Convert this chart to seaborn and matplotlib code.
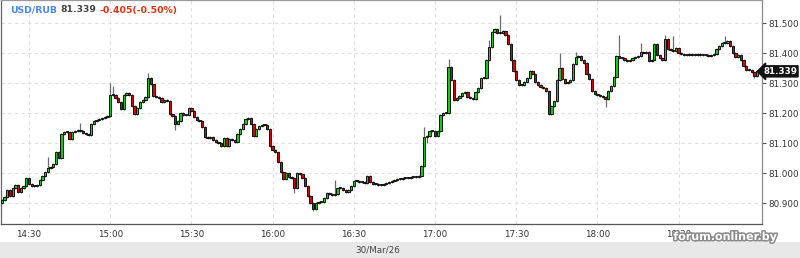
import matplotlib
matplotlib.use("Agg")
import matplotlib.pyplot as plt
import matplotlib.patheffects as pe
from matplotlib.patches import Rectangle
import matplotlib.transforms as mtrans
import seaborn as sns
import numpy as np

# ---------------- data (1-minute candles, 30/Mar/26, from 14:20) ----------------
start_minute = 20          # minutes after 14:00 of the first candle
first_open = 80.900
closes = [
    80.910, 80.920, 80.944, 80.924, 80.950, 80.960, 80.937, 80.950, 80.957, 80.984,
    80.964, 80.957, 80.957, 80.960, 80.977, 80.990, 81.004, 81.017, 81.020, 81.030,
    81.070, 81.050, 81.130, 81.137, 81.137, 81.114, 81.137, 81.140, 81.144, 81.140,
    81.134, 81.130, 81.127, 81.164, 81.174, 81.177, 81.180, 81.184, 81.187, 81.190,
    81.260, 81.260, 81.250, 81.237, 81.214, 81.260, 81.267, 81.260, 81.224, 81.197,
    81.217, 81.237, 81.244, 81.254, 81.317, 81.297, 81.257, 81.254, 81.250, 81.237,
    81.244, 81.240, 81.197, 81.190, 81.164, 81.174, 81.200, 81.194, 81.194, 81.217,
    81.207, 81.187, 81.177, 81.174, 81.154, 81.120, 81.117, 81.120, 81.110, 81.104,
    81.100, 81.090, 81.117, 81.090, 81.114, 81.110, 81.104, 81.130, 81.147, 81.164,
    81.180, 81.184, 81.164, 81.124, 81.147, 81.157, 81.160, 81.160, 81.147, 81.090,
    81.077, 81.070, 81.037, 81.004, 80.980, 81.000, 80.987, 80.984, 80.950, 81.000,
    80.997, 80.984, 80.957, 80.924, 80.900, 80.880, 80.900, 80.904, 80.904, 80.917,
    80.934, 80.930, 80.927, 80.930, 80.950, 80.950, 80.944, 80.937, 80.944, 80.957,
    80.974, 80.974, 80.970, 80.970, 80.967, 80.990, 80.970, 80.964, 80.964, 80.960,
    80.960, 80.964, 80.967, 80.970, 80.974, 80.977, 80.980, 80.980, 80.984, 80.984,
    80.984, 80.987, 80.987, 80.987, 80.990, 81.024, 81.120, 81.124, 81.140, 81.140,
    81.124, 81.140, 81.194, 81.200, 81.200, 81.354, 81.310, 81.244, 81.250, 81.257,
    81.267, 81.270, 81.254, 81.250, 81.247, 81.270, 81.284, 81.317, 81.317, 81.377,
    81.420, 81.470, 81.480, 81.467, 81.467, 81.474, 81.460, 81.430, 81.377, 81.340,
    81.310, 81.294, 81.294, 81.304, 81.317, 81.340, 81.330, 81.304, 81.294, 81.287,
    81.284, 81.274, 81.197, 81.224, 81.240, 81.310, 81.350, 81.314, 81.300, 81.304,
    81.310, 81.364, 81.387, 81.390, 81.377, 81.367, 81.330, 81.314, 81.274, 81.264,
    81.260, 81.257, 81.254, 81.247, 81.274, 81.290, 81.320, 81.390, 81.384, 81.384,
    81.377, 81.374, 81.377, 81.384, 81.387, 81.390, 81.404, 81.400, 81.404, 81.374,
    81.377, 81.430, 81.394, 81.384, 81.377, 81.447, 81.414, 81.410, 81.407, 81.417,
    81.400, 81.397, 81.394, 81.394, 81.397, 81.394, 81.394, 81.397, 81.394, 81.394,
    81.394, 81.390, 81.394, 81.397, 81.414, 81.424, 81.434, 81.434, 81.440, 81.424,
    81.400, 81.387, 81.394, 81.377, 81.357, 81.344, 81.344, 81.337, 81.324, 81.339,
]
# notable wick extremes (candle index -> price)
wick_highs = {17: 81.054, 29: 81.167, 40: 81.300, 41: 81.290, 54: 81.334, 56: 81.290,
              109: 81.004, 123: 80.977, 156: 81.154, 165: 81.380, 180: 81.444,
              184: 81.527, 206: 81.400, 212: 81.404, 228: 81.460, 236: 81.434,
              245: 81.460, 248: 81.457, 267: 81.457}
wick_lows = {64: 81.144, 108: 80.934, 115: 80.873, 157: 81.100, 223: 81.220,
             278: 81.317}

last_price = "81.339"
change_text = "-0.405(-0.50%)"
pair = "USD/RUB"
date_label = "30/Mar/26"
x_tick_minutes = [30, 60, 90, 120, 150, 180, 210, 240, 270]
x_tick_labels = ["14:30", "15:00", "15:30", "16:00", "16:30", "17:00", "17:30", "18:00", "18:30"]
y_ticks = [80.9, 81.0, 81.1, 81.2, 81.3, 81.4, 81.5]

# ---------------- style ----------------
sns.set_style("white")
plt.rcParams["font.family"] = ["DejaVu Sans"]

W, H = 800, 258
fig = plt.figure(figsize=(W / 100, H / 100), dpi=100)
fig.patch.set_facecolor("white")
ax = fig.add_axes([1 / W, 34 / H, 761 / W, 224 / H])

n = len(closes)
xs = np.arange(n) + start_minute
opens = [first_open] + closes[:-1]
wick_pad = 0.004  # typical wick length beyond the body (style)
highs = [wick_highs.get(i, max(opens[i], closes[i]) + wick_pad) for i in range(n)]
lows = [wick_lows.get(i, min(opens[i], closes[i]) - wick_pad) for i in range(n)]

up_col, down_col, flat_col = "#10cc10", "#d80000", "#a0a0a0"
colors, bottoms, heights = [], [], []
for o, c in zip(opens, closes):
    if c > o:
        colors.append(up_col)
    elif c < o:
        colors.append(down_col)
    else:
        colors.append(flat_col)
    bottoms.append(min(o, c))
    heights.append(max(abs(c - o), 0.0025))

ax.vlines(xs, lows, highs, color="#6a6a6a", linewidth=0.9, zorder=2)
ax.bar(xs, heights, bottom=bottoms, width=0.85, color=colors,
       edgecolor="#111111", linewidth=0.7, zorder=3)

ax.set_xlim(19.67, 300.8)
ax.set_ylim(80.830, 81.577)

# grid
ax.set_xticks(x_tick_minutes)
ax.set_xticklabels(x_tick_labels)
ax.set_yticks(y_ticks)
ax.set_yticklabels([f"{v:.3f}" for v in y_ticks])
ax.grid(True, color="#dedede", linestyle=(0, (3, 3)), linewidth=0.8, zorder=0)
ax.set_axisbelow(True)

ax.yaxis.tick_right()
ax.tick_params(axis="y", direction="out", length=3, width=0.8, color="#555555",
               labelsize=6.3, labelcolor="#333333", pad=1.5)
ax.tick_params(axis="x", direction="in", length=4, width=0.8, color="#aaaaaa",
               labelsize=6.3, labelcolor="#333333", pad=4)

for side, col in [("left", "#666666"), ("bottom", "#555555"), ("right", "#888888"),
                  ("top", "#999999")]:
    ax.spines[side].set_visible(True)
    ax.spines[side].set_color(col)
    ax.spines[side].set_linewidth(0.9)

# last price flag on the right axis
trans = mtrans.blended_transform_factory(ax.transAxes, ax.transData)
ax.text(796 / 761, float(last_price), last_price, transform=trans, ha="right",
        va="center", fontsize=6.3, color="white", fontweight="bold",
        bbox=dict(boxstyle="larrow,pad=0.12", fc="#111111", ec="#111111"), zorder=10,
        clip_on=False)

# header
hy = 1 - 10 / H
fig.text(10 / W, hy, pair, color="#4a86e8", fontsize=6.7, fontweight="bold", va="center")
fig.text(60 / W, hy, last_price, color="#444444", fontsize=6.7, fontweight="bold", va="center")
fig.text(100 / W, hy, change_text, color="#e03010", fontsize=6.7, fontweight="bold",
         va="center")

# bottom date band
fig.patches.append(Rectangle((0, 0), 1, 16 / H, transform=fig.transFigure,
                             facecolor="#e8e8e8", edgecolor="none", zorder=0))
fig.text(378 / W, 8 / H, date_label, ha="center", va="center", fontsize=6.3,
         color="#444444")

# watermark
fig.text(725 / W, 21 / H, "forum.onliner.by", ha="center", va="center", fontsize=8,
         fontweight="bold", color="white",
         path_effects=[pe.withStroke(linewidth=2.2, foreground="#8a8a8a")], zorder=20)

fig.savefig("out.png", dpi=100)
